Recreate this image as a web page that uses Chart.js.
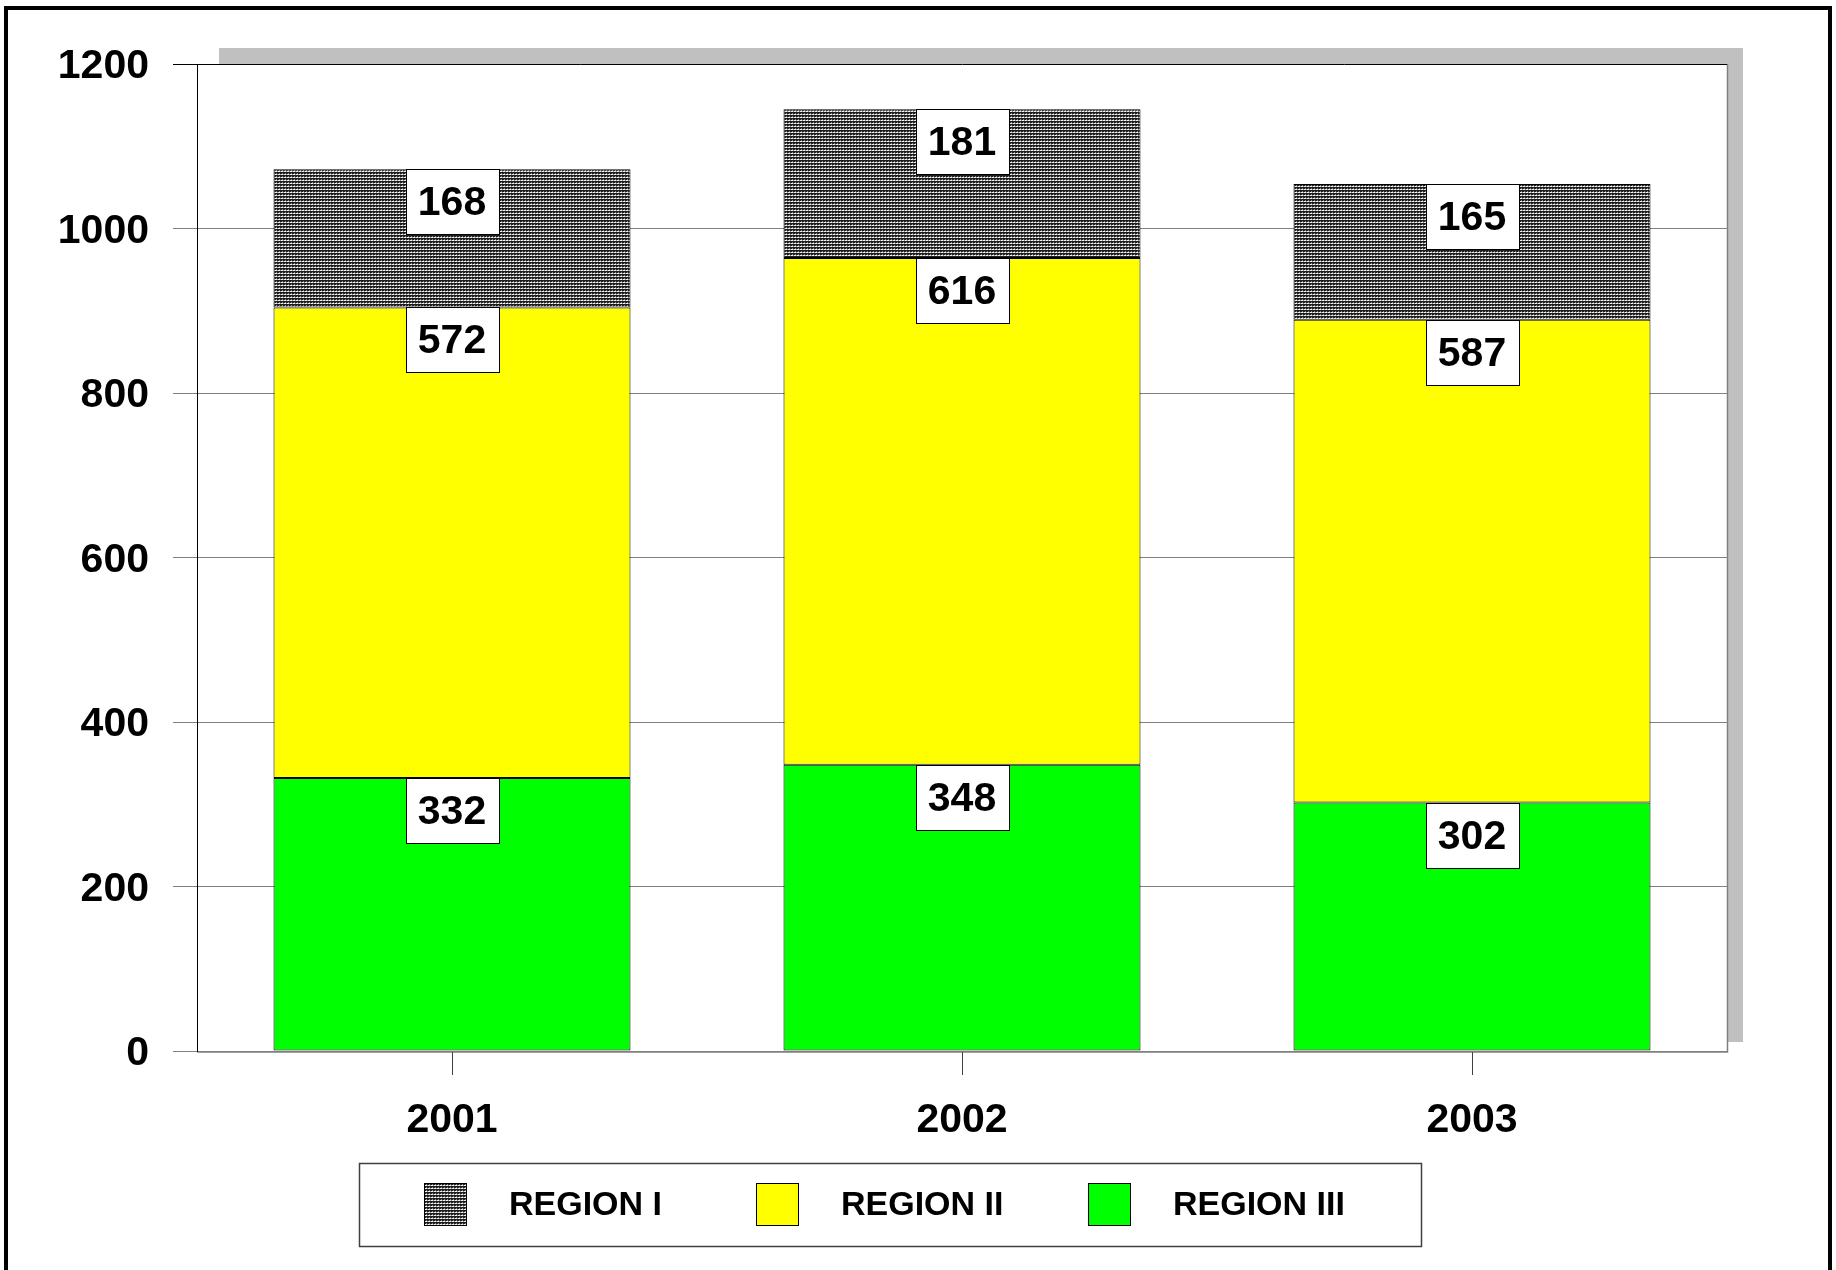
<!DOCTYPE html>
<html>
<head>
<meta charset="utf-8">
<script src="https://cdn.jsdelivr.net/npm/chart.js@4/dist/chart.umd.min.js"></script>
<style>
  html, body { margin: 0; padding: 0; background: #fff; }
  canvas { display: block; }
</style>
</head>
<body>
<canvas id="c" width="1836" height="1270" style="width:1836px;height:1270px"></canvas>
<script>
const categories = ['2001', '2002', '2003'];
const regionI = [168, 181, 165];
const regionII = [572, 616, 587];
const regionIII = [332, 348, 302];
const seriesNames = ['REGION I', 'REGION II', 'REGION III'];
const yTicks = [0, 200, 400, 600, 800, 1000, 1200];

const FONT = "'Liberation Sans', Arial, sans-serif";

function makePattern() {
  const t = document.createElement('canvas');
  t.width = 3; t.height = 3;
  const g = t.getContext('2d');
  g.fillStyle = '#1e1e1e'; g.fillRect(0, 0, 3, 3);
  g.fillStyle = '#f0f0f0'; g.fillRect(0, 0, 1, 1); g.fillRect(2, 0, 1, 1);
  g.fillStyle = '#8a8a8a'; g.fillRect(1, 0, 1, 1); g.fillRect(0, 2, 1, 1);
  return document.getElementById('c').getContext('2d').createPattern(t, 'repeat');
}
const pattern = makePattern();

const backgroundPlugin = {
  id: 'bg',
  beforeDraw(chart) {
    const ctx = chart.ctx, a = chart.chartArea;
    ctx.save();
    ctx.fillStyle = '#fff';
    ctx.fillRect(0, 0, chart.width, chart.height);
    // outer frame
    ctx.strokeStyle = '#000'; ctx.lineWidth = 4;
    ctx.strokeRect(6, 8, 1824, 1280);
    // shadow
    ctx.fillStyle = '#c0c0c0';
    ctx.fillRect(a.left + 22, a.top - 16, a.right - a.left - 6, a.bottom - a.top + 7);
    // plot area
    ctx.fillStyle = '#fff';
    ctx.fillRect(a.left, a.top, a.right - a.left, a.bottom - a.top);
    ctx.strokeStyle = '#808080'; ctx.lineWidth = 1.5;
    ctx.beginPath();
    ctx.moveTo(a.right + 0.5, a.top); ctx.lineTo(a.right + 0.5, a.bottom + 1);
    ctx.lineTo(a.left, a.bottom + 1);
    ctx.stroke();
    ctx.restore();
  }
};

const labelPlugin = {
  id: 'boxLabels',
  afterDatasetsDraw(chart) {
    const ctx = chart.ctx;
    ctx.save();
    chart.data.datasets.forEach((ds, i) => {
      const meta = chart.getDatasetMeta(i);
      meta.data.forEach((bar, j) => {
        const w = 93, h = 65;
        const x = Math.round(bar.x - w / 2) + 0.5;
        const y = Math.round(bar.y) + 0.5;
        ctx.fillStyle = '#fff';
        ctx.fillRect(x, y, w, h);
        ctx.strokeStyle = '#000'; ctx.lineWidth = 1;
        ctx.strokeRect(x, y, w, h);
        ctx.fillStyle = '#000';
        ctx.font = 'bold 41px ' + FONT;
        ctx.textAlign = 'center'; ctx.textBaseline = 'middle';
        ctx.fillText(String(ds.data[j]), bar.x, y + h / 2 + 2);
      });
    });
    ctx.restore();
  }
};

const legendPlugin = {
  id: 'customLegend',
  afterDraw(chart) {
    const ctx = chart.ctx;
    ctx.save();
    ctx.fillStyle = '#fff';
    ctx.fillRect(359, 1163, 1062, 83);
    ctx.strokeStyle = '#404040'; ctx.lineWidth = 1.5;
    ctx.strokeRect(359.5, 1163.5, 1062, 83);
    const order = [2, 1, 0];
    order.forEach((di, k) => {
      const ds = chart.data.datasets[di];
      const sx = 424 + k * 332;
      ctx.fillStyle = ds.backgroundColor;
      ctx.fillRect(sx, 1183, 42, 42);
      ctx.strokeStyle = '#000'; ctx.lineWidth = 1;
      ctx.strokeRect(sx + 0.5, 1183.5, 42, 42);
      ctx.fillStyle = '#000';
      ctx.font = 'bold 34px ' + FONT;
      ctx.textAlign = 'left'; ctx.textBaseline = 'middle';
      ctx.fillText(ds.label, sx + 85, 1206);
    });
    ctx.restore();
  }
};

new Chart(document.getElementById('c'), {
  type: 'bar',
  data: {
    labels: categories,
    datasets: [
      { label: seriesNames[2], data: regionIII, backgroundColor: '#00ff00' },
      { label: seriesNames[1], data: regionII, backgroundColor: '#ffff00' },
      { label: seriesNames[0], data: regionI, backgroundColor: pattern }
    ].map(d => Object.assign(d, { borderColor: '#000', borderWidth: 1, borderSkipped: false,
      categoryPercentage: 1.0, barPercentage: 0.7 }))
  },
  options: {
    responsive: false,
    devicePixelRatio: 1,
    animation: false,
    layout: { padding: { left: 0, top: 64, right: 109, bottom: 0 } },
    plugins: { legend: { display: false }, tooltip: { enabled: false } },
    scales: {
      x: {
        stacked: true,
        afterFit(s) { s.height = 219; },
        grid: { offset: false, drawOnChartArea: false, tickLength: 24, color: '#404040', lineWidth: 1 },
        border: { display: false },
        ticks: { color: '#000', padding: 21, font: { family: FONT, weight: 'bold', size: 41 } }
      },
      y: {
        stacked: true,
        min: 0, max: 1200,
        afterFit(s) { s.width = 197; },
        afterBuildTicks(s) { s.ticks = yTicks.map(v => ({ value: v })); },
        grid: {
          tickLength: 24,
          lineWidth: 1,
          color: c => (c.tick && c.tick.value === 1200) ? '#000' : '#808080'
        },
        border: { color: '#000', width: 1 },
        ticks: {
          color: '#000', padding: 24, labelOffset: 3,
          callback: v => String(v),
          font: { family: FONT, weight: 'bold', size: 41 }
        }
      }
    }
  },
  plugins: [backgroundPlugin, labelPlugin, legendPlugin]
});
</script>
</body>
</html>
